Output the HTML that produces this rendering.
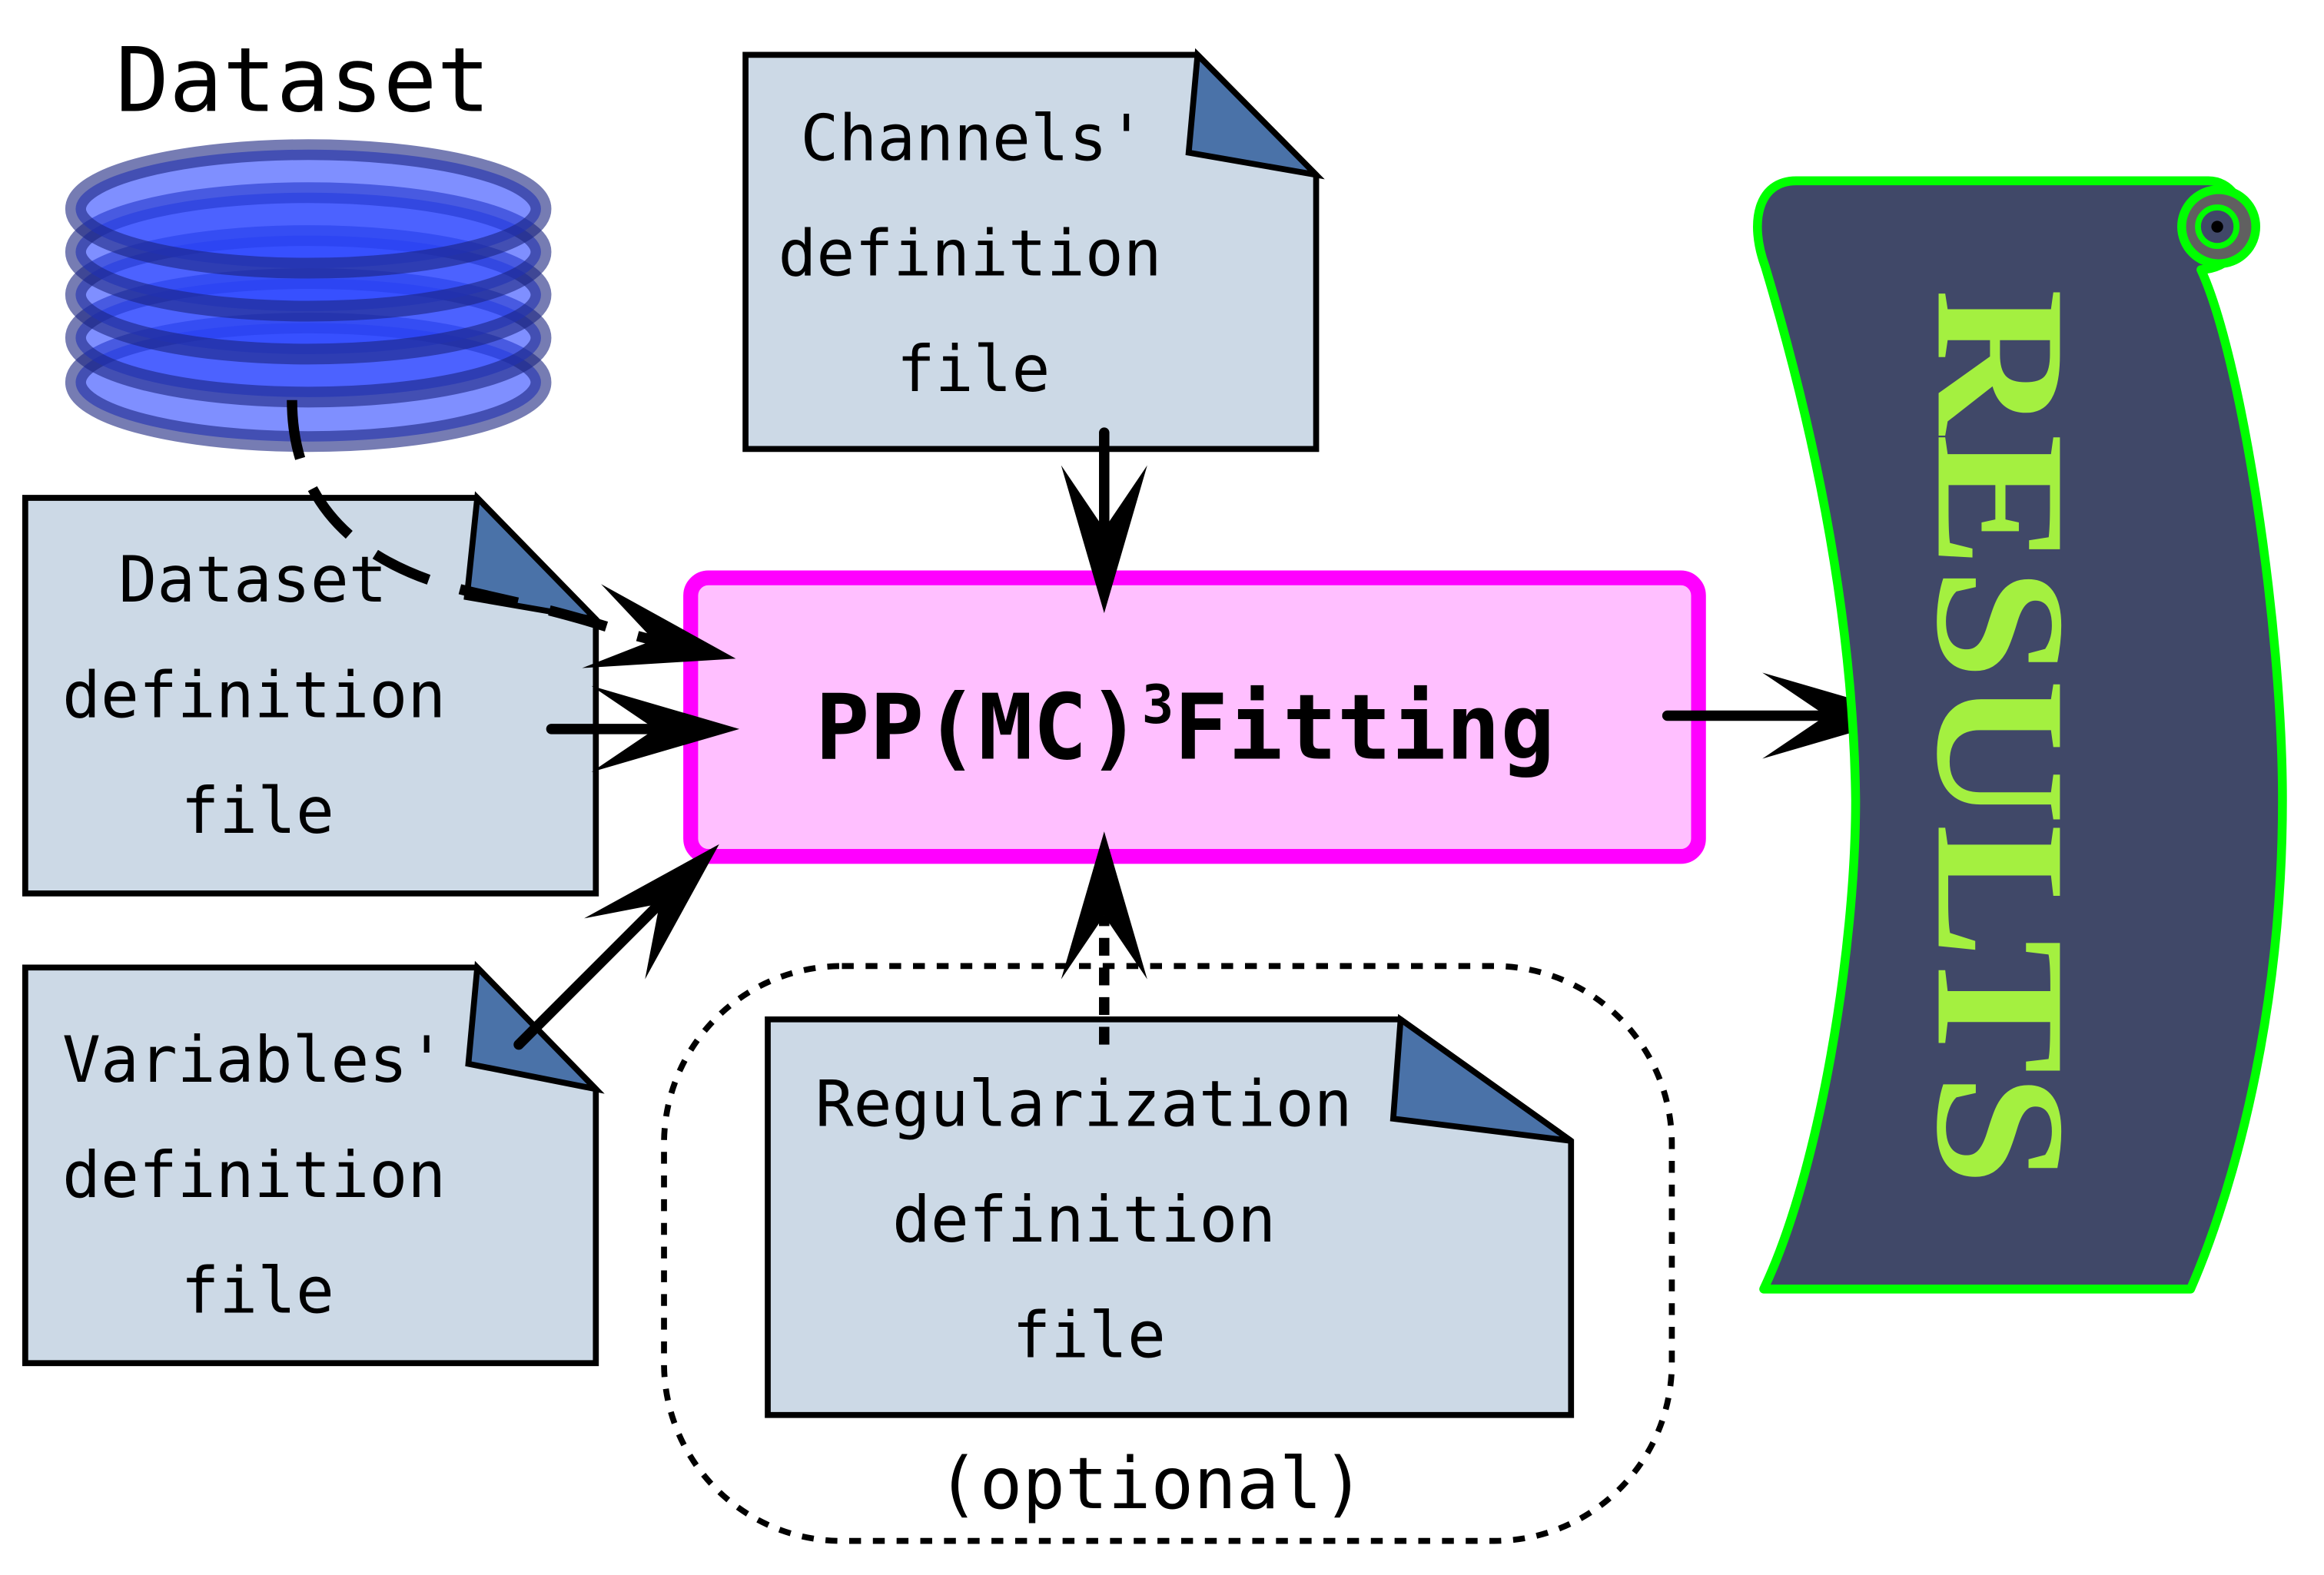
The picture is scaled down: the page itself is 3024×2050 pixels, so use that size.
<!DOCTYPE html>
<html><head><meta charset="utf-8"><style>
html,body{margin:0;padding:0;background:#fff;}
svg{display:block;}
text{font-family:"DejaVu Sans Mono","Liberation Mono",monospace;}
</style></head><body>
<svg width="3024" height="2050" viewBox="0 0 1568 1063" xmlns="http://www.w3.org/2000/svg">
<defs>
<marker id="ah" markerUnits="userSpaceOnUse" markerWidth="120" markerHeight="80" refX="-45" refY="0" viewBox="-90 -30 95 60" orient="auto" overflow="visible">
<path d="M0,0 L-79,-23 L-45,0 L-79,23 Z" fill="#000"/>
</marker>
</defs>
<rect width="1568" height="1063" fill="#fff"/>
<text x="78" y="75" font-size="60">Dataset</text>
<g stroke="#1a2480" stroke-opacity="0.6" stroke-width="14" fill="#2a44ff" fill-opacity="0.6">
<ellipse cx="208" cy="258" rx="157" ry="40"/>
<ellipse cx="208" cy="228" rx="157" ry="40"/>
<ellipse cx="208" cy="199" rx="157" ry="40"/>
<ellipse cx="208" cy="170" rx="157" ry="40"/>
<ellipse cx="208" cy="141" rx="157" ry="40"/>
</g>
<g stroke="#000" stroke-width="4" fill="#ccd9e6" stroke-linejoin="miter">
<path d="M17,336 L322,336 L402,418 L402,603 L17,603 Z"/>
<path d="M322,336 L315,403 L402,418 Z" fill="#4a72a8"/>
<path d="M503,37 L808,37 L888,118 L888,303 L503,303 Z"/>
<path d="M808,37 L802,103 L888,118 Z" fill="#4a72a8"/>
<path d="M17,653 L322,653 L402,735 L402,920 L17,920 Z"/>
<path d="M322,653 L316,718 L402,735 Z" fill="#4a72a8"/>
<path d="M518,688 L945,688 L1060,770 L1060,955 L518,955 Z"/>
<path d="M945,688 L940,755 L1060,770 Z" fill="#4a72a8"/>
</g>
<g font-size="43" fill="#000">
<text x="540" y="108">Channels'</text>
<text x="525" y="186">definition</text>
<text x="605" y="264">file</text>
<text x="80" y="406">Dataset</text>
<text x="42" y="484">definition</text>
<text x="122" y="562">file</text>
<text x="42" y="730">Variables'</text>
<text x="42" y="808">definition</text>
<text x="122" y="886">file</text>
<text x="550" y="760">Regularization</text>
<text x="602" y="838">definition</text>
<text x="683" y="916">file</text>
</g>
<rect x="448" y="652" width="680" height="388" rx="120" ry="120" fill="none" stroke="#000" stroke-width="4" stroke-dasharray="8 8"/>
<text x="632" y="1018" font-size="48">(optional)</text>
<rect x="466" y="390" width="680" height="188" rx="12" ry="12" fill="#ffbfff" stroke="#ff00ff" stroke-width="10"/>
<text x="550" y="512" font-size="61" font-weight="bold">PP(MC)<tspan font-size="36" dy="-24">3</tspan><tspan dy="24">Fitting</tspan></text>
<g stroke="#000" stroke-width="7" fill="none" stroke-linecap="round">
<path d="M197,270 C197,330 230,380 320,400 S410,425 441,432" stroke-dasharray="40 22" stroke-linecap="butt" marker-end="url(#ah)"/>
<line x1="745" y1="292" x2="745" y2="357" marker-end="url(#ah)"/>
<line x1="372" y1="492" x2="442" y2="492" marker-end="url(#ah)"/>
<line x1="350" y1="705" x2="445" y2="610" marker-end="url(#ah)"/>
<line x1="745" y1="705" x2="745" y2="618" stroke-dasharray="12 8" stroke-linecap="butt" marker-end="url(#ah)"/>
<line x1="1125" y1="483" x2="1232" y2="483" marker-end="url(#ah)"/>
</g>
<path d="M1190,870 C1228,790 1252,640 1252,540 C1250,380 1206,230 1191,180 C1180,150 1186,122 1212,122 L1490,122 C1520,122 1525,180 1485,182 C1512,240 1540,420 1540,540 C1540,700 1500,820 1478,870 Z" fill="#404868" stroke="#00ff00" stroke-width="6" stroke-linejoin="round"/>
<circle cx="1497" cy="153" r="25" fill="#606060" stroke="#00ff00" stroke-width="6"/>
<circle cx="1496" cy="153" r="13" fill="#404868" stroke="#00ff00" stroke-width="4"/>
<circle cx="1496" cy="153" r="4" fill="#000"/>
<text transform="translate(1308,195) rotate(90)" x="0" y="0" font-size="125" font-weight="bold" fill="#a4f040" textLength="605" lengthAdjust="spacingAndGlyphs" style="font-family:'Liberation Serif',serif">RESULTS</text>
</svg>
</body></html>
